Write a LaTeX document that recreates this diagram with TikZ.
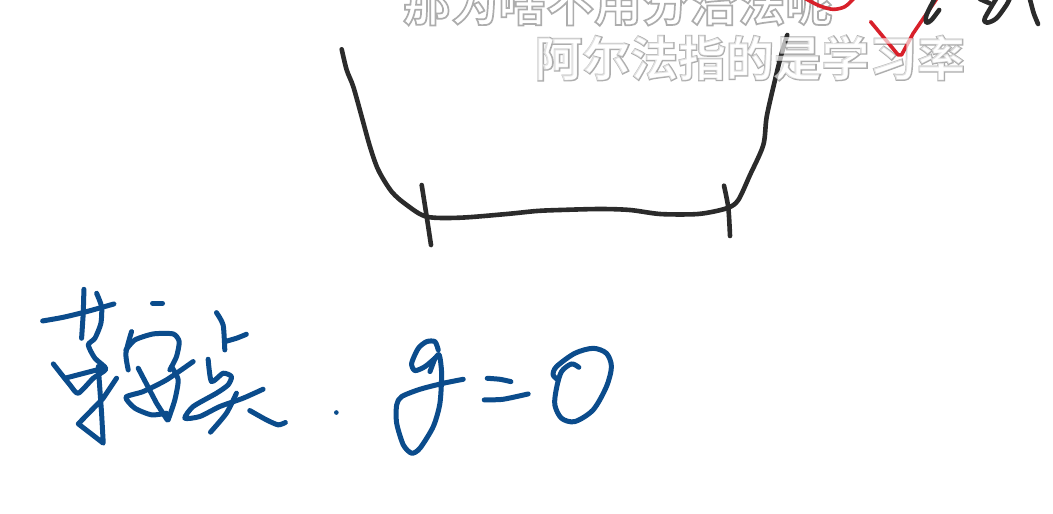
\documentclass[tikz,border=0pt]{standalone}
\usepackage{fontspec}
\usepackage{xcolor}
\newfontfamily\cjk{Noto Sans CJK SC Bold}
\definecolor{inkblack}{HTML}{2B2B2B}
\definecolor{inkblue}{HTML}{0B4C8C}
\definecolor{inkred}{HTML}{D8202A}
\newcommand{\subA}{那为啥不用分治法呢}
\newcommand{\subB}{阿尔法指的是学习率}
\newcommand{\outlined}[1]{\special{pdf:code 2 Tr 1.7 w 0.68 G}#1\special{pdf:code 0 Tr 1 w 0 G}}
\tikzset{
  blackink/.style={draw=inkblack, line width=4.6pt, line cap=round, line join=round},
  blueink/.style={draw=inkblue, line width=5pt, line cap=round, line join=round},
  redink/.style={draw=inkred, line width=3.6pt, line cap=round, line join=round},
  subtext/.style={inner sep=0pt, font=\cjk\fontsize{47.8}{50}\selectfont}
}
\begin{document}
\begin{tikzpicture}[x=1pt, y=-1pt]
        \useasboundingbox (0,0) rectangle (1053,514);
        \clip (0,0) rectangle (1053,514);
        \fill [white] (0,0) rectangle (1053,514);

        % Subtitle outlines
        \node [subtext, text=white] (SubTop) at (618,3) {\outlined{\subA}};
        \node [subtext, text=white] (SubBottom) at (750,58) {\outlined{\subB}};

        % Bowl
        \draw [blackink] plot [smooth, tension=0.5] coordinates {(341.7,49.3) (346.7,70) (353.3,86.7) (361.7,116.7) (370,146.7) (378.3,170) (391.7,191.7) (406.7,205) (426.7,216.7) (460,217.7) (506.7,214) (536.7,211) (560,210) (600,209) (630,210) (660,214) (693,214.3) (710,212.3) (728.3,207.7) (738.3,200) (750,175) (763.3,145) (766.7,116.7) (775,80) (781.7,53.3) (787.3,35)};
        \draw [blackink] plot [smooth, tension=0.5] coordinates {(421.7,185) (426.7,216.7) (431,245)};
        \draw [blackink] plot [smooth, tension=0.5] coordinates {(724,185.7) (728.3,207.7) (730,236)};

        % Top right scribbles
        \begin{scope}[shift={(780,0)}, x=0.333pt, y=-0.333pt]
            \draw [redink] plot [smooth, tension=0.5] coordinates {(75,-5) (120,18) (160,28) (195,20) (222,-5)};
            \draw [redink] (272,65) -- (355,165) -- (365,165) -- (400,100) -- (475,-10);
            \draw [blackink] plot [smooth, tension=0.5] coordinates {(465,-5) (440,45) (440,68) (455,60) (478,30)};
            \draw [blackink] plot [smooth, tension=0.5] coordinates {(650,-5) (615,55) (622,68) (650,55) (680,15) (690,-5)};
            \draw [blackink] (600,-3) -- (630,10);
            \draw [blackink] plot [smooth, tension=0.5] coordinates {(750,-5) (762,40) (775,72)};
        \end{scope}

        % Handwritten word
        \begin{scope}[shift={(20,270)}, x=0.333pt, y=-0.333pt]
            \draw [blueink] plot [smooth, tension=0.4] coordinates {(68,153) (130,142) (200,125) (282,102)};
            \draw [blueink] (192,58) -- (190,130) -- (185,205);
            \draw [blueink] plot [smooth, tension=0.4] coordinates {(230,70) (245,110) (243,160) (225,205) (205,225) (225,265) (258,297) (220,325) (175,370) (150,345) (100,282)};
            \draw [blueink] (135,325) -- (250,295);
            \draw [blueink] (290,325) -- (250,385) -- (175,462) -- (250,520) -- (245,430) -- (235,290);
            \draw [blueink] (398,100) -- (428,100);
            \draw [blueink] plot [smooth, tension=0.4] coordinates {(335,185) (318,250) (325,300)};
            \draw [blueink] plot [smooth, tension=0.4] coordinates {(318,240) (345,210) (400,192) (460,192) (478,215) (470,260) (450,300)};
            \draw [blueink] plot [smooth, tension=0.4] coordinates {(520,275) (440,330) (370,365) (318,382) (345,415) (395,435) (440,430)};
            \draw [blueink] (355,295) -- (410,400) -- (442,450);
            \draw [blueink] plot [smooth, tension=0.4] coordinates {(455,290) (475,330) (465,390) (445,450)};
            \draw [blueink] plot [smooth, tension=0.4] coordinates {(590,128) (610,165) (615,240)};
            \draw [blueink] plot [smooth, tension=0.4] coordinates {(615,215) (650,205) (680,193)};
            \draw [blueink] plot [smooth, tension=0.4] coordinates {(565,268) (575,335) (610,310) (635,320) (625,345) (590,370) (520,410) (495,445) (540,440) (600,410) (670,385) (730,358)};
            \draw [blueink] plot [smooth, tension=0.4] coordinates {(650,370) (620,430) (572,487)};
            \draw [blueink] plot [smooth, tension=0.4] coordinates {(690,422) (740,450) (775,465) (797,458)};
            \fill [inkblue] (950,428) circle (7);
        \end{scope}

        % g = 0
        \begin{scope}[shift={(380,330)}, x=0.333pt, y=-0.333pt]
            \draw [blueink] plot [smooth, tension=0.45] coordinates {(175,60) (165,35) (140,35) (115,55) (95,100) (105,122) (135,110) (165,85) (178,75) (185,130) (180,220) (160,290) (120,355) (95,370) (70,345) (50,280) (50,225) (65,200) (120,178) (190,160) (250,148)};
            \draw [blueink] (150,125) -- (165,85);
            \draw [blueink] plot [smooth, tension=0.4] coordinates {(322,145) (360,148) (393,155)};
            \draw [blueink] plot [smooth, tension=0.4] coordinates {(313,210) (370,208) (445,192)};
            \draw [blueink] plot [smooth, tension=0.5] coordinates {(597,112) (575,102) (545,125) (530,175) (525,225) (545,265) (585,275) (640,240) (680,170) (695,110) (680,70) (640,55) (585,70) (530,110) (520,135) (535,150)};
        \end{scope}

        % Subtitle fill over the ink
        \begin{scope}[opacity=0.65]
            \node [subtext, text=white] (SubBottomFill) at (750,58) {\subB};
        \end{scope}
    \end{tikzpicture}
\end{document}
